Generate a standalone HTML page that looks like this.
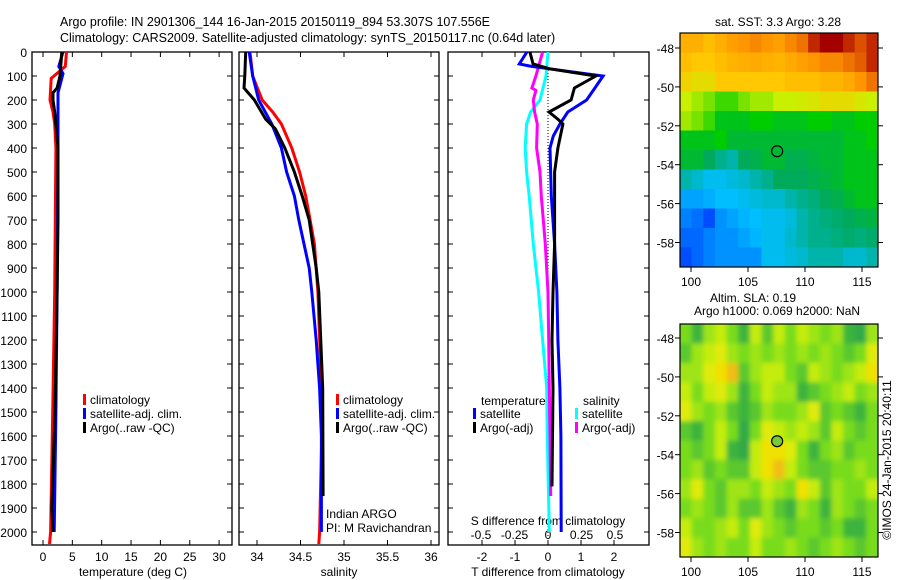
<!DOCTYPE html>
<html><head><meta charset="utf-8"><style>
body{margin:0;background:#fff}
svg{display:block;font-family:"Liberation Sans",sans-serif;font-size:12px}
</style></head><body>
<svg id="s" width="900" height="580" xmlns="http://www.w3.org/2000/svg">
<defs><filter id="blur" x="0" y="0" width="1" height="1"><feGaussianBlur stdDeviation="2.5"/></filter></defs>
<text x="60" y="26" font-size="12.5">Argo profile: IN 2901306_144 16-Jan-2015 20150119_894 53.307S 107.556E</text>
<text x="60" y="42" font-size="12.5">Climatology: CARS2009. Satellite-adjusted climatology: synTS_20150117.nc (0.64d later)</text>
</svg>
<script>
// ---- data ----
const tDep=[0,60,110,200,250,300,400,700,1000,1500,2000,2050];
const tClim=[4.0,3.8,1.4,1.2,1.7,2.0,2.2,2.1,2.0,1.65,1.3,1.1];
const tSatDep=[0,60,90,170,400,1000,1500,2000];
const tSat=[3.4,2.7,3.4,2.55,2.55,2.4,2.2,1.9];
const tArgoDep=[0,100,150,170,200,250,400,700,1000,1500,1900,2000];
const tArgo=[3.2,2.9,2.4,1.7,1.7,2.0,2.55,2.55,2.4,2.05,1.5,1.7];
const sDep=[0,100,200,250,300,400,500,600,700,800,1000,1500,2000,2050];
const sClim=[33.92,33.95,34.06,34.18,34.28,34.40,34.49,34.56,34.61,34.66,34.70,34.75,34.72,34.71];
const sSatDep=[0,100,200,300,400,500,600,700,800,900,1000,1200,1400,1600,2000];
const sSat=[33.91,33.95,34.02,34.17,34.28,34.34,34.43,34.48,34.54,34.60,34.63,34.68,34.72,34.74,34.74];
const sArgoDep=[0,100,150,200,280,320,400,500,600,700,800,900,1000,1400,1850];
const sArgo=[33.87,33.86,33.85,33.97,34.10,34.21,34.32,34.43,34.52,34.60,34.64,34.68,34.71,34.755,34.76];
const dTSatDep=[0,50,60,70,100,150,200,250,300,350,400,600,800,1000,1200,1400,1600,2000];
const dTSat=[-0.64,-0.87,-0.5,0.05,1.67,1.42,1.17,0.6,0.36,0.16,0.06,0.1,0.2,0.27,0.3,0.36,0.39,0.4];
const dTArgoDep=[0,50,70,100,150,200,250,280,300,400,500,800,1000,1200,1400,1810];
const dTArgo=[-0.55,-0.45,0.05,1.45,0.8,0.7,0.03,0.3,0.45,0.3,0.2,0.2,0.15,0.12,0.15,0.12];
const dSSatDep=[0,100,200,250,300,400,500,600,800,1000,1200,1400,1600,2000];
const dSSat=[0,-0.015,-0.06,-0.13,-0.16,-0.17,-0.16,-0.14,-0.11,-0.07,-0.04,-0.01,-0.005,0.01];
const dSArgoDep=[0,100,150,160,200,250,300,400,500,600,800,1000,1200,1400,1600,1850];
const dSArgo=[-0.04,-0.09,-0.12,-0.09,-0.11,-0.1,-0.08,-0.085,-0.06,-0.05,-0.02,0,0.005,0.01,0.015,0.02];
const depthTicks=[0,100,200,300,400,500,600,700,800,900,1000,1100,1200,1300,1400,1500,1600,1700,1800,1900,2000];
const tTicks=[0,5,10,15,20,25,30];
const sTicks=[34,34.5,35,35.5,36];
const sTickLabels=["34","34.5","35","35.5","36"];
const dTTicks=[-2,-1,0,1,2];
const dSTicks=[-0.5,-0.25,0,0.25,0.5];
const dSTickLabels=["-0.5","-0.25","0","0.25","0.5"];
const latTicks=[-48,-50,-52,-54,-56,-58];
const lonTicks=[100,105,110,115];
const sstGrid=[
[0.75,0.75,0.72,0.75,0.78,0.8,0.82,0.8,0.78,0.82,0.85,0.95,1,1,0.95,0.9,0.95],
[0.72,0.7,0.7,0.72,0.74,0.75,0.76,0.75,0.74,0.76,0.78,0.8,0.82,0.82,0.85,0.88,0.95],
[0.68,0.66,0.66,0.7,0.7,0.7,0.7,0.7,0.7,0.72,0.72,0.72,0.74,0.74,0.76,0.8,0.85],
[0.62,0.6,0.58,0.55,0.55,0.58,0.6,0.6,0.62,0.62,0.63,0.64,0.66,0.66,0.66,0.64,0.62],
[0.6,0.58,0.55,0.5,0.5,0.5,0.52,0.52,0.5,0.5,0.5,0.52,0.52,0.5,0.5,0.52,0.52],
[0.5,0.5,0.5,0.52,0.48,0.48,0.48,0.48,0.48,0.48,0.48,0.48,0.48,0.48,0.5,0.5,0.52],
[0.48,0.48,0.45,0.42,0.4,0.45,0.46,0.48,0.48,0.46,0.46,0.47,0.48,0.48,0.5,0.5,0.5],
[0.4,0.38,0.36,0.36,0.37,0.38,0.4,0.42,0.45,0.45,0.45,0.46,0.47,0.48,0.5,0.5,0.5],
[0.32,0.32,0.33,0.35,0.35,0.36,0.37,0.38,0.38,0.4,0.42,0.43,0.45,0.46,0.48,0.5,0.5],
[0.28,0.26,0.22,0.3,0.32,0.34,0.35,0.36,0.36,0.37,0.4,0.42,0.43,0.44,0.45,0.46,0.47],
[0.25,0.25,0.28,0.3,0.3,0.32,0.34,0.36,0.36,0.38,0.4,0.42,0.42,0.43,0.44,0.43,0.44],
[0.22,0.25,0.28,0.3,0.3,0.3,0.3,0.36,0.36,0.37,0.38,0.4,0.4,0.4,0.38,0.38,0.4]];
const slaGrid=[
[.5,.3,.6,.7,.5,.3,.7,.4,.7,.5,.7,.6,.5,.6,.3,.2,.6],
[.4,.6,.7,.8,.6,.5,.6,.5,.6,.5,.6,.5,.6,.5,.4,.5,.8],
[.6,.6,.8,.9,1.0,.4,.6,.7,.7,.5,.4,.7,.6,.5,.6,.7,.9],
[.7,.5,.7,.8,.6,.3,.5,.7,.6,.6,.3,.4,.5,.6,.7,.5,.6],
[.8,.6,.5,.6,.4,.3,.4,.6,.5,.5,.6,.8,.4,.5,.4,.3,.5],
[.4,.3,.5,.7,.5,.2,.5,.8,.7,.6,.7,.6,.4,.7,.5,.4,.5],
[.5,.4,.5,.7,.3,.2,.7,.9,.9,.8,.5,.3,.5,.6,.4,.5,.5],
[.5,.6,.4,.5,.4,.4,.7,.9,1.0,.7,.5,.4,.4,.5,.5,.6,.5],
[.6,.8,.5,.4,.6,.6,.5,.7,.6,.5,.9,.7,.4,.6,.5,.5,.7],
[.5,.6,.5,.4,.6,.4,.4,.6,.4,.3,.6,.5,.3,.6,.5,.4,.5],
[.7,.5,.5,.6,.7,.5,.8,.6,.5,.4,.5,.5,.4,.5,.3,.3,.5],
[.8,.6,.5,.6,.5,.5,.7,.5,.5,.6,.5,.4,.5,.6,.5,.4,.5]];
const argoLon=107.556, argoLat=-53.307;

// ---- drawing ----
const S=document.getElementById('s'),NS='http://www.w3.org/2000/svg';
function mk(t,a,p){const e=document.createElementNS(NS,t);for(const k in a)e.setAttribute(k,a[k]);(p||S).appendChild(e);return e;}
const yD=d=>52+d*0.24;
const panels=[{x0:32,x1:232,f:v=>43+v*5.87},{x0:239,x1:439,f:v=>257+(v-34)*87},{x0:448,x1:649,f:v=>548+v*33}];
const fS=v=>548+v*134;
function line(xs,ds,f,col,name){
  const p=xs.map((v,i)=>f(v).toFixed(1)+','+yD(ds[i]).toFixed(1)).join(' ');
  const e=mk('polyline',{points:p,fill:'none',stroke:col,'stroke-width':3,'stroke-linejoin':'miter'});
  
  
}
function txt(x,y,s,anchor,name,extra){
  const e=mk('text',Object.assign({x:x,y:y,'text-anchor':anchor||'start'},extra||{}));e.textContent=s;
  
  
  return e;
}
panels.forEach((P,pi)=>{
  const r=mk('rect',{x:P.x0,y:52,width:P.x1-P.x0,height:493,fill:'none',stroke:'#000','stroke-width':1.3});
  
  
  depthTicks.forEach(d=>{const y=yD(d);mk('line',{x1:P.x0,x2:P.x0+5,y1:y,y2:y,stroke:'#000'});mk('line',{x1:P.x1-5,x2:P.x1,y1:y,y2:y,stroke:'#000'});});
});
depthTicks.forEach(d=>txt(27,yD(d)+5,String(d),'end','depth-tick-label'));
tTicks.forEach(v=>{const x=panels[0].f(v);mk('line',{x1:x,x2:x,y1:52,y2:57,stroke:'#000'});mk('line',{x1:x,x2:x,y1:540,y2:545,stroke:'#000'});txt(x,561,String(v),'middle','temp-tick-label');});
sTicks.forEach((v,i)=>{const x=panels[1].f(v);mk('line',{x1:x,x2:x,y1:52,y2:57,stroke:'#000'});mk('line',{x1:x,x2:x,y1:540,y2:545,stroke:'#000'});txt(x,561,sTickLabels[i],'middle','salinity-tick-label');});
dTTicks.forEach(v=>{const x=panels[2].f(v);mk('line',{x1:x,x2:x,y1:52,y2:57,stroke:'#000'});mk('line',{x1:x,x2:x,y1:540,y2:545,stroke:'#000'});txt(x,561,String(v),'middle','tdiff-tick-label');});
dSTicks.forEach((v,i)=>txt(fS(v),539,dSTickLabels[i],'middle','sdiff-tick-label'));
txt(133,576,'temperature (deg C)','middle','x-axis-title-temperature');
txt(339,576,'salinity','middle','x-axis-title-salinity');
txt(548,576,'T difference from climatology','middle','x-axis-title-tdiff');
txt(548,525,'S difference from climatology','middle','x-axis-title-sdiff');
mk('line',{x1:548,x2:548,y1:52,y2:545,stroke:'#000','stroke-dasharray':'1,2'});
const P0=panels[0].f,P1=panels[1].f,P2=panels[2].f;
line(tClim,tDep,P0,'#f00','temp-climatology-line');
line(tSat,tSatDep,P0,'#00f','temp-satellite-line');
line(tArgo,tArgoDep,P0,'#000','temp-argo-line');
line(sClim,sDep,P1,'#f00','sal-climatology-line');
line(sSat,sSatDep,P1,'#00f','sal-satellite-line');
line(sArgo,sArgoDep,P1,'#000','sal-argo-line');
line(dSSat,dSSatDep,fS,'#0ff','sdiff-satellite-line');
line(dSArgo,dSArgoDep,fS,'#f0f','sdiff-argo-line');
line(dTSat,dTSatDep,P2,'#00f','tdiff-satellite-line');
line(dTArgo,dTArgoDep,P2,'#000','tdiff-argo-line');
function leg(mx,y,col,s,name){const r=mk('rect',{x:mx,y:y-10,width:3,height:11,fill:col});txt(mx+7,y,s,'start',name);}
leg(83,404,'#f00','climatology','legend-climatology');
leg(83,418,'#00f','satellite-adj. clim.','legend-satellite-adj');
leg(83,432,'#000','Argo(..raw -QC)','legend-argo');
leg(336,404,'#f00','climatology','legend-climatology-2');
leg(336,418,'#00f','satellite-adj. clim.','legend-satellite-adj-2');
leg(336,432,'#000','Argo(..raw -QC)','legend-argo-2');
txt(326,518,'Indian ARGO','start','credit-indian-argo');
txt(326,532,'PI: M Ravichandran','start','credit-pi');
txt(481,405,'temperature','start','legend-temperature-heading');
leg(473,418,'#00f','satellite','legend-tdiff-satellite');
leg(473,432,'#000','Argo(-adj)','legend-tdiff-argo');
txt(583,405,'salinity','start','legend-salinity-heading');
leg(575,418,'#0ff','satellite','legend-sdiff-satellite');
leg(575,432,'#f0f','Argo(-adj)','legend-sdiff-argo');
function jet(v){const st=[[0,[0,0,140]],[0.2,[0,60,255]],[0.35,[0,190,255]],[0.45,[0,170,90]],[0.52,[0,205,0]],[0.62,[200,240,0]],[0.7,[255,200,0]],[0.8,[255,150,0]],[0.9,[220,80,0]],[1,[165,0,0]]];return interp(st,v);}
function slaC(v){const st=[[0,[30,150,90]],[0.3,[60,180,60]],[0.5,[120,220,30]],[0.75,[215,240,10]],[0.9,[240,225,0]],[1,[240,190,20]]];return interp(st,v);}
function interp(st,v){v=Math.max(0,Math.min(1,v));for(let i=1;i<st.length;i++)if(v<=st[i][0]){const a=st[i-1],b=st[i],t=(v-a[0])/(b[0]-a[0]);return 'rgb('+a[1].map((c,k)=>Math.round(c+(b[1][k]-c)*t)).join(',')+')';}return 'rgb(165,0,0)';}
const xL=lon=>691+(lon-100)*11.4;
function drawMap(grid,cf,y48,top,bot,name,blur){
  const yL=lat=>y48+(-48-lat)*19.45;
  const g=mk('g',{});
  const cp=mk('clipPath',{id:name+'-clip'},g);
  mk('rect',{x:680,y:top,width:198,height:bot-top},cp);
  const outer=mk('g',{'clip-path':'url(#'+name+'-clip)'},g);
  const cg=mk('g',blur?{filter:'url(#blur)'}:{},outer);
  const nr=grid.length,nc=grid[0].length,cw=198/nc,ch=(bot-top)/nr;
  grid.forEach((row,r)=>row.forEach((v,c)=>{
    const x0=680+c*cw-(blur&&c===0?10:0),y0=top+r*ch-(blur&&r===0?10:0);
    const w=cw+0.6+(blur&&(c===0||c===nc-1)?10:0),h=ch+0.6+(blur&&(r===0||r===nr-1)?10:0);
    const e=mk('rect',{x:x0.toFixed(1),y:y0.toFixed(1),width:w.toFixed(1),height:h.toFixed(1),fill:cf(v)},cg);
    
    
  }));
  mk('rect',{x:680,y:top,width:198,height:bot-top,fill:'none',stroke:'#000','stroke-width':1.2},g);
  latTicks.forEach(l=>{const y=yL(l);mk('line',{x1:675,x2:680,y1:y,y2:y,stroke:'#000'},g);mk('line',{x1:878,x2:883,y1:y,y2:y,stroke:'#000'},g);txt(674,y+5,String(l),'end','map-lat-label');});
  lonTicks.forEach(l=>{const x=xL(l);mk('line',{x1:x,x2:x,y1:bot,y2:bot+5,stroke:'#000'},g);txt(x,bot+19,String(l),'middle','map-lon-label');});
  const c=mk('circle',{cx:xL(argoLon),cy:yL(argoLat),r:5.5,fill:name==='sla-map'?'#7c3':'none',stroke:'#000','stroke-width':1.2},g);
  
  
}
drawMap(sstGrid,jet,48,33,267,'sst-map',false);
drawMap(slaGrid,slaC,338,324,557,'sla-map',true);
txt(778,26,'sat. SST: 3.3 Argo: 3.28','middle','sst-map-title');
txt(753,302,'Altim. SLA: 0.19','middle','sla-map-title');
txt(777,315,'Argo h1000: 0.069 h2000: NaN','middle','sla-map-subtitle');
txt(891,460,'©IMOS 24-Jan-2015 20:40:11','middle','imos-credit',{transform:'rotate(-90 891 460)'});
</script>
</body></html>
